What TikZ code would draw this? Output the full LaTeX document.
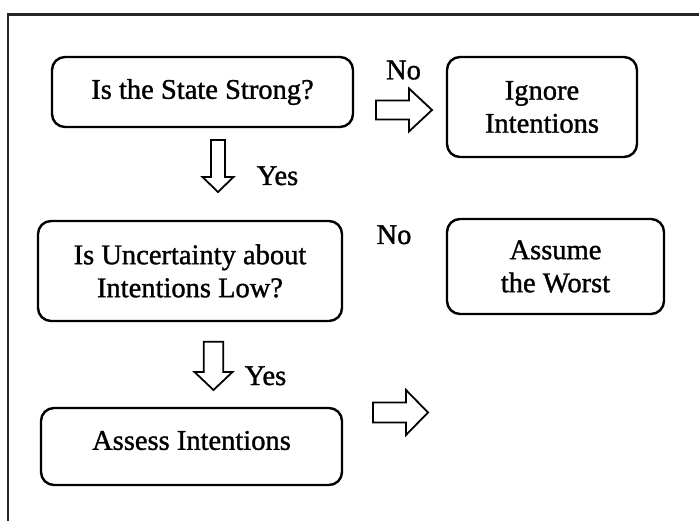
\documentclass[tikz,border=0pt]{standalone}
\usepackage{fontspec}
\setmainfont{Liberation Serif}
\newfontfamily\heavyserif[FakeBold=1.2]{Liberation Serif}
\begin{document}
\begin{tikzpicture}[x=1pt,y=-1pt,
  txt/.style={font=\heavyserif\fontsize{28.5}{33}\selectfont, text=black, inner sep=0pt, align=center},
  box/.style={draw=black, line width=2.4pt, rounded corners=13pt, inner sep=0pt, align=center,
              font=\heavyserif\fontsize{28.5}{33}\selectfont},
  blockarrow/.style={draw=black, line width=1.8pt, fill=white, line join=miter}
]
\useasboundingbox (0,0) rectangle (699,521);
% frame
\coordinate (fTR) at (699,14.5);
\coordinate (fTL) at (7.8,14.5);
\coordinate (fBL) at (7.8,521);
\draw[line width=2.2pt, draw=black!85] (fTR) -- (fTL) -- (fBL);

% boxes
\node[box, minimum width=301pt, minimum height=70pt] (b1) at (202.5,92) {Is the State Strong?};
\node[box, minimum width=190pt, minimum height=100pt] (b2) at (542,107) {Ignore\\Intentions};
\node[box, minimum width=304pt, minimum height=100pt] (b3) at (190,271) {Is Uncertainty about\\Intentions Low?};
\node[box, minimum width=217pt, minimum height=95pt] (b4) at (555.5,266.5) {Assume\\the Worst};
\node[box, minimum width=301pt, minimum height=77pt] (b5) at (191.5,446.5) {};
\node[txt] (t5) at (191.5,440.5) {Assess Intentions};

% labels
\node[txt, anchor=base] (no1) at (403.5,79.3) {No};
\node[txt, anchor=base] (yes1) at (277.5,185) {Yes};
\node[txt, anchor=base] (no2) at (394,244) {No};
\node[txt, anchor=base] (yes2) at (265.5,385) {Yes};

% block arrows (right)
\coordinate (ra1) at (376,110);
\draw[blockarrow, shift={(ra1)}] (0,-9.5) -- (33,-9.5) -- (33,-21.5) -- (56,0) -- (33,21.5) -- (33,9.5) -- (0,9.5) -- cycle;
\coordinate (ra3) at (373,412.5);
\draw[blockarrow, shift={(ra3)}] (0,-10) -- (33,-10) -- (33,-22.5) -- (55,0) -- (33,22.5) -- (33,10) -- (0,10) -- cycle;

% block arrows (down)
\coordinate (da1) at (218,140);
\draw[blockarrow, shift={(da1)}] (-7,0) -- (7,0) -- (7,37) -- (15.5,37) -- (0,52) -- (-15.5,37) -- (-7,37) -- cycle;
\coordinate (da2) at (213.5,341.7);
\draw[blockarrow, shift={(da2)}] (-9.8,0) -- (9.8,0) -- (9.8,30.3) -- (19,30.3) -- (0,48.3) -- (-19,30.3) -- (-9.8,30.3) -- cycle;
\end{tikzpicture}
\end{document}
